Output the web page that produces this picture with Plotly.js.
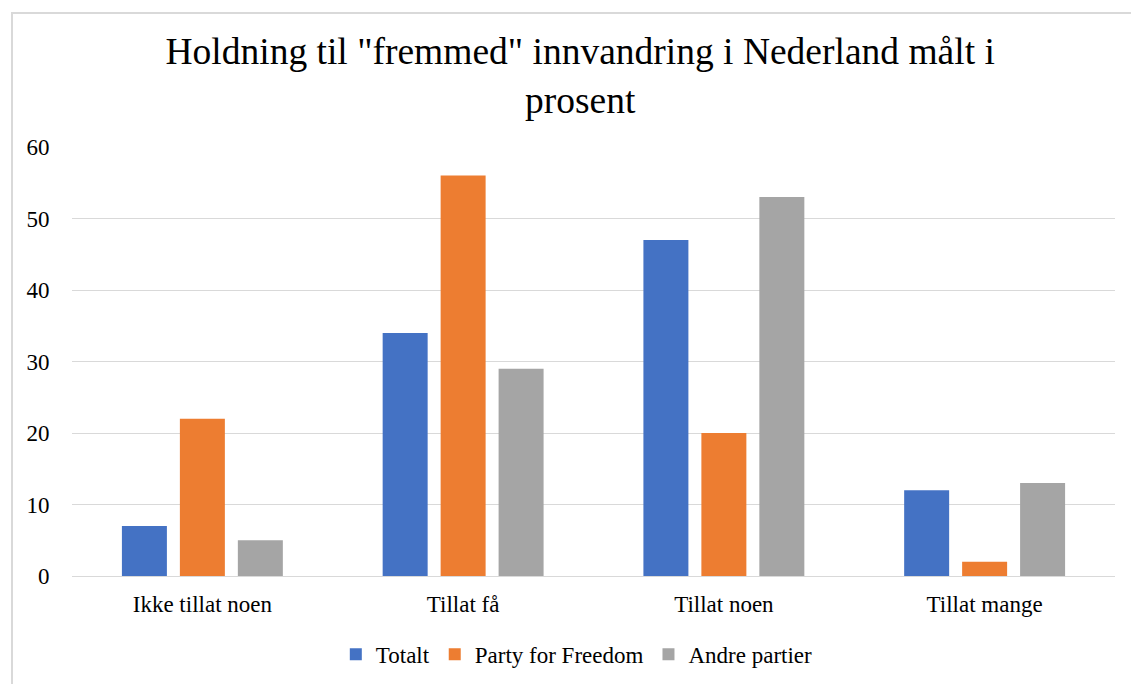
<!DOCTYPE html>
<html><head><meta charset="utf-8">
<script src="https://cdn.plot.ly/plotly-3.0.1.min.js"></script>
<style>
html,body{margin:0;padding:0;background:#fff;}
#frame{position:absolute;left:11px;top:12px;width:1140px;height:700px;border:2px solid #d9d9d9;box-sizing:border-box;}
#chart{position:absolute;left:0;top:0;width:1131px;height:684px;}
</style></head>
<body>
<div id="frame"></div>
<div id="chart"></div>
<script>
const categories = ["Ikke tillat noen", "Tillat få", "Tillat noen", "Tillat mange"];
const totalt = [7, 34, 47, 12];
const partyForFreedom = [22, 56, 20, 2];
const andrePartier = [5, 29, 53, 13];
const yTicks = [0, 10, 20, 30, 40, 50, 60];

const font = {family: "Liberation Serif", color: "#000"};
const traces = [
  {type: "bar", name: "Totalt", x: categories, y: totalt, marker: {color: "#4472c4"}},
  {type: "bar", name: "Party for Freedom", x: categories, y: partyForFreedom, marker: {color: "#ed7d31"}},
  {type: "bar", name: "Andre partier", x: categories, y: andrePartier, marker: {color: "#a5a5a5"}}
];
const layout = {
  width: 1131, height: 684,
  paper_bgcolor: "rgba(0,0,0,0)", plot_bgcolor: "rgba(0,0,0,0)",
  margin: {l: 72, r: 16, t: 147, b: 108},
  font: Object.assign({size: 23}, font),
  title: {text: 'Holdning til "fremmed" innvandring i Nederland målt i<br>prosent',
          font: Object.assign({size: 37.5}, font), xref: "container", x: 0.513, xanchor: "center",
          yref: "container", y: 0.906, yanchor: "top"},
  barmode: "group", bargap: 0.333, bargroupgap: 0.224,
  xaxis: {type: "category", showgrid: false, showline: false, zeroline: false,
          ticks: "outside", ticklen: 7, tickcolor: "rgba(0,0,0,0)",
          tickfont: Object.assign({size: 23}, font)},
  yaxis: {range: [0, 60], tickvals: yTicks, ticktext: yTicks.map(String),
          showgrid: true, gridcolor: "#d9d9d9", gridwidth: 1,
          zeroline: true, zerolinecolor: "#d9d9d9", zerolinewidth: 1,
          showline: false, ticks: "outside", ticklen: 17, tickcolor: "rgba(0,0,0,0)",
          tickfont: Object.assign({size: 23}, font)},
  showlegend: true,
  legend: {orientation: "h", x: 0.51, xanchor: "center", xref: "container",
           y: 0.012, yref: "container", yanchor: "bottom",
           font: Object.assign({size: 23}, font), itemwidth: 30, traceorder: "normal"}
};
Plotly.newPlot("chart", traces, layout, {displayModeBar: false, staticPlot: true});
</script>
</body></html>
